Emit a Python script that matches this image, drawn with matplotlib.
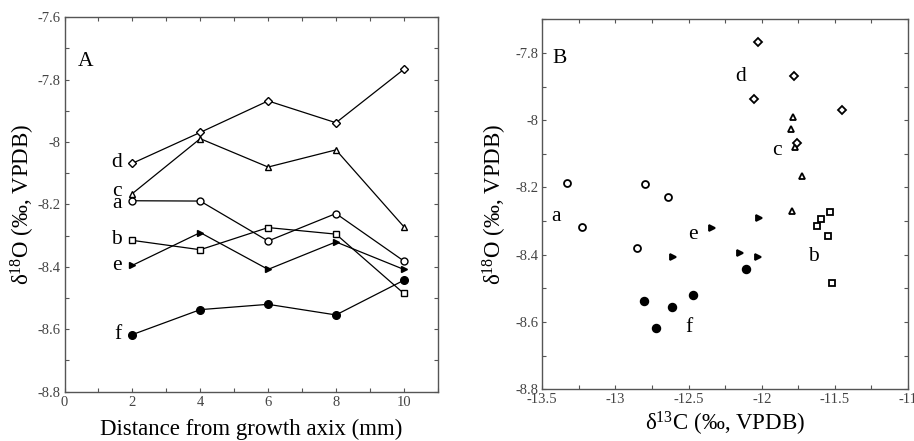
import numpy as np
import matplotlib
matplotlib.use("Agg")
import matplotlib.pyplot as plt
from matplotlib.ticker import MultipleLocator

plt.rcParams['font.family'] = ['Liberation Serif', 'DejaVu Serif']
plt.rcParams['mathtext.fontset'] = 'custom'
plt.rcParams['mathtext.rm'] = 'Liberation Serif'
plt.rcParams['mathtext.it'] = 'Liberation Serif:italic'

# distance from growth axis (mm)
dist = [2, 4, 6, 8, 10]

# d18O per sample
d18O_a = [-8.188, -8.189, -8.317, -8.229, -8.381]
d18O_b = [-8.315, -8.345, -8.274, -8.295, -8.485]
d18O_c = [-8.165, -7.989, -8.080, -8.025, -8.271]
d18O_d = [-8.068, -7.969, -7.868, -7.938, -7.767]
d18O_e = [-8.395, -8.290, -8.408, -8.320, -8.408]
d18O_f = [-8.617, -8.537, -8.520, -8.554, -8.443]

# d13C per sample
d13C_a = [-13.334, -12.796, -13.229, -12.641, -12.850]
d13C_b = [-11.620, -11.547, -11.536, -11.593, -11.517]
d13C_c = [-11.722, -11.786, -11.775, -11.798, -11.791]
d13C_d = [-11.757, -11.454, -11.779, -12.053, -12.023]
d13C_e = [-12.146, -12.016, -12.604, -12.342, -12.023]
d13C_f = [-12.723, -12.803, -12.470, -12.613, -12.110]

names = ['a', 'b', 'c', 'd', 'e', 'f']
o18 = [d18O_a, d18O_b, d18O_c, d18O_d, d18O_e, d18O_f]
c13 = [d13C_a, d13C_b, d13C_c, d13C_d, d13C_e, d13C_f]
markers = ['o', 's', '^', 'D', '>', 'o']
fills = ['white', 'white', 'white', 'white', 'black', 'black']
msizes = [5, 5, 5, 4, 5, 5.5]

# label positions
labA = {'d': -8.066, 'c': -8.159, 'a': -8.198, 'b': -8.312, 'e': -8.396, 'f': -8.618}
labB = {'d': (-12.144, -7.870), 'c': (-11.898, -8.091), 'a': (-13.409, -8.287),
        'e': (-12.472, -8.341), 'b': (-11.643, -8.405), 'f': (-12.497, -8.616)}

spine_col = '#555555'
tick_col = '#444444'

fig = plt.figure(figsize=(9.14, 4.41), dpi=100)
axA = fig.add_axes([0.0706, 0.1118, 0.4083, 0.849])
axB = fig.add_axes([0.5933, 0.1172, 0.4001, 0.839])

def style(ax):
    for s in ax.spines.values():
        s.set_color(spine_col)
        s.set_linewidth(1.0)
    ax.tick_params(which='both', direction='in', top=True, right=True,
                   length=3, width=0.8, color=spine_col, labelcolor=tick_col,
                   labelsize=10.5, pad=3)

# panel A
for n, y, m, fc, ms in zip(names, o18, markers, fills, msizes):
    axA.plot(dist, y, color='black', lw=0.9, marker=m, ms=ms,
             mfc=fc, mec='black', mew=1.0)
for n, y in labA.items():
    axA.text(1.68, y, n, fontsize=15.5, ha='right', va='center')
axA.text(0.62, -7.742, 'A', fontsize=15.5, ha='center', va='center')
axA.set_xlim(0, 11)
axA.set_ylim(-8.8, -7.6)
axA.set_xticks([0, 2, 4, 6, 8, 10])
axA.xaxis.set_minor_locator(MultipleLocator(1))
axA.yaxis.set_major_locator(MultipleLocator(0.2))
axA.yaxis.set_minor_locator(MultipleLocator(0.1))
axA.set_yticklabels(['%g' % v for v in axA.get_yticks()])
style(axA)
axA.set_xlabel('Distance from growth axix (mm)', fontsize=16.5)
axA.set_ylabel('δ$^{18}$O (‰, VPDB)', fontsize=16.5)
axA.xaxis.set_label_coords(0.5, -0.072)
axA.yaxis.set_label_coords(-0.074, 0.5)

# panel B
for n, x, y, m, fc, ms in zip(names, c13, o18, markers, fills, msizes):
    axB.plot(x, y, ls='none', marker=m, ms=ms, mfc=fc, mec='black', mew=1.3)
for n, (x, y) in labB.items():
    axB.text(x, y, n, fontsize=15.5, ha='center', va='center')
axB.text(-13.379, -7.816, 'B', fontsize=15.5, ha='center', va='center')
axB.set_xlim(-13.5, -11)
axB.set_ylim(-8.8, -7.7)
axB.xaxis.set_major_locator(MultipleLocator(0.5))
axB.xaxis.set_minor_locator(MultipleLocator(0.25))
axB.set_yticks([-8.8, -8.6, -8.4, -8.2, -8.0, -7.8])
axB.yaxis.set_minor_locator(MultipleLocator(0.1))
axB.set_xticklabels(['%g' % v for v in axB.get_xticks()])
axB.set_yticklabels(['%g' % v for v in axB.get_yticks()])
style(axB)
axB.set_xlabel('δ$^{13}$C (‰, VPDB)', fontsize=16.5)
axB.set_ylabel('δ$^{18}$O (‰, VPDB)', fontsize=16.5)
axB.xaxis.set_label_coords(0.5, -0.056)
axB.yaxis.set_label_coords(-0.091, 0.5)

fig.savefig('out.png', dpi=100)
